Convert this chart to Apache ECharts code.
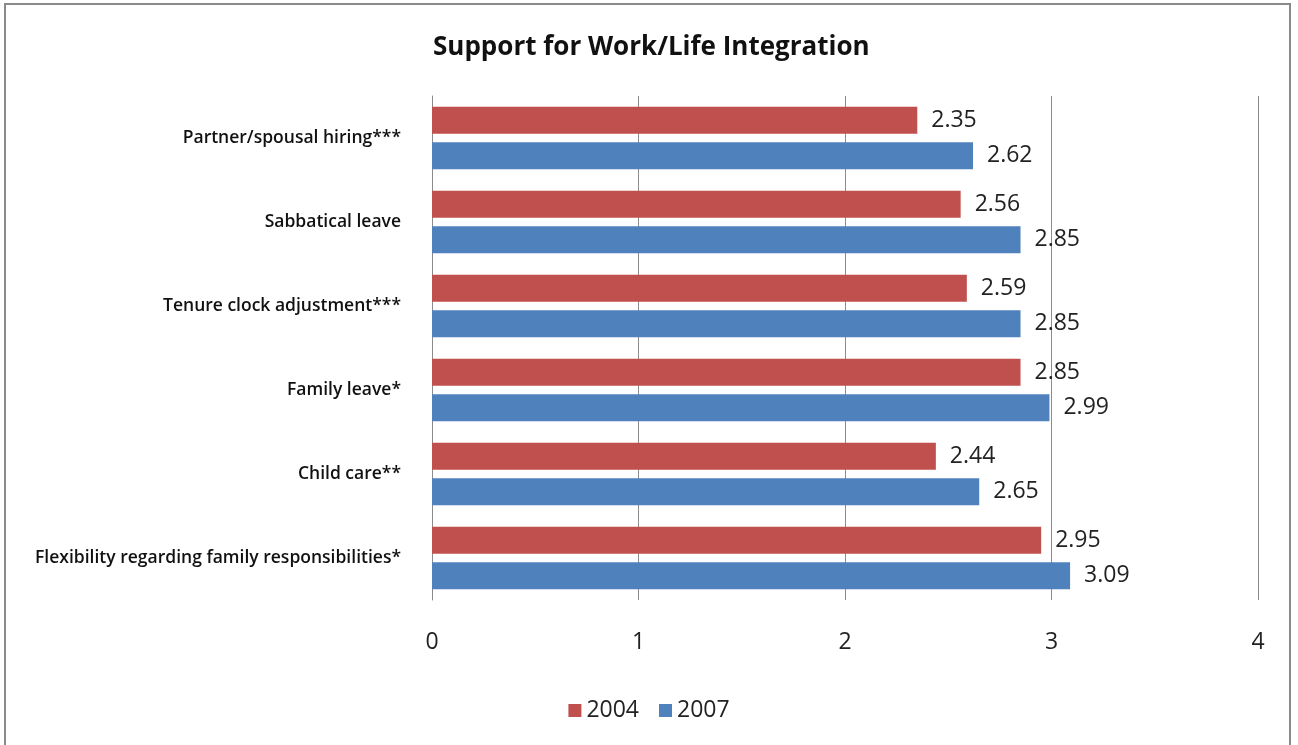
<!DOCTYPE html>
<html>
<head>
<meta charset="utf-8">
<script src="https://cdn.jsdelivr.net/npm/echarts@6/dist/echarts.min.js"></script>
<style>
html,body{margin:0;padding:0;background:#fff;}
#chart{width:1298px;height:745px;}
</style>
</head>
<body>
<div id="chart"></div>
<script>
const categories = [
  'Partner/spousal hiring***',
  'Sabbatical leave',
  'Tenure clock adjustment***',
  'Family leave*',
  'Child care**',
  'Flexibility regarding family responsibilities*'
];
const values2004 = [2.35, 2.56, 2.59, 2.85, 2.44, 2.95];
const values2007 = [2.62, 2.85, 2.85, 2.99, 2.65, 3.09];
const xTicks = [0, 1, 2, 3, 4];

const FONT = '"Open Sans", "Noto Sans", sans-serif';
const chart = echarts.init(document.getElementById('chart'));
const labelStyle = {
  show: true, position: 'right', distance: 14,
  fontFamily: FONT, fontSize: 23, color: '#222',
  formatter: p => p.value.toFixed(2)
};
chart.setOption({
  animation: false,
  textStyle: { fontFamily: FONT },
  title: {
    text: 'Support for Work/Life Integration',
    left: 428, top: 30,
    textStyle: { fontFamily: FONT, fontSize: 26, fontWeight: 'bold', color: '#111' }
  },
  graphic: [{
    type: 'rect', silent: true,
    shape: { x: 5, y: 4, width: 1285, height: 780 },
    style: { fill: 'none', stroke: '#8a8a8a', lineWidth: 2 }
  }],
  legend: {
    bottom: 18, left: 'center',
    itemWidth: 13, itemHeight: 13, itemGap: 20,
    icon: 'rect',
    textStyle: { fontFamily: FONT, fontSize: 23, color: '#222' },
    data: ['2004', '2007']
  },
  grid: { left: 432, right: 40, top: 96, bottom: 145 },
  xAxis: {
    type: 'value', min: 0, max: 4, interval: 1,
    axisLine: { show: false }, axisTick: { show: false },
    splitLine: { show: true, lineStyle: { color: '#8c8c8c', width: 1 } },
    axisLabel: { margin: 31, fontFamily: FONT, fontSize: 23, color: '#222',
      formatter: v => xTicks.includes(v) ? String(v) : '' }
  },
  yAxis: {
    type: 'category', data: categories, inverse: true,
    axisLine: { show: true, lineStyle: { color: '#8c8c8c', width: 1 } },
    axisTick: { show: false },
    axisLabel: { margin: 31, fontFamily: FONT, fontSize: 17.5, fontWeight: 600, color: '#111' }
  },
  series: [
    { name: '2004', type: 'bar', data: values2004, barWidth: 27, barGap: '32%',
      itemStyle: { color: '#C0504D' }, label: labelStyle },
    { name: '2007', type: 'bar', data: values2007, barWidth: 27,
      itemStyle: { color: '#4F81BD' }, label: labelStyle }
  ]
});
</script>
</body>
</html>
